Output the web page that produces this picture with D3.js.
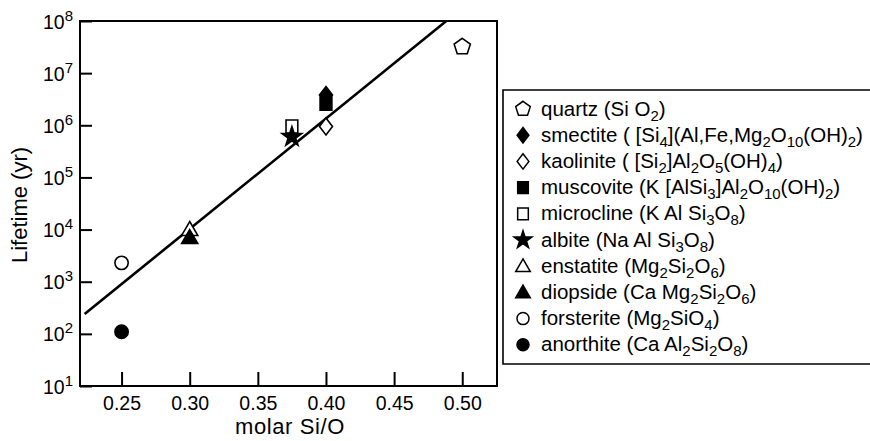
<!DOCTYPE html>
<html><head><meta charset="utf-8">
<script src="https://cdn.jsdelivr.net/npm/d3@7"></script>
<style>body{margin:0;background:#fff}svg{display:block}text{font-family:"Liberation Sans",Arial,sans-serif;fill:#000}</style>
</head><body><svg id="c" width="870" height="441"></svg>
<script>
const minerals = ["quartz","smectite","kaolinite","muscovite","microcline","albite","enstatite","diopside","forsterite","anorthite"];
const formulas = ["Si O_2","[Si_4](Al,Fe,Mg_2O_10(OH)_2","[Si_2]Al_2O_5(OH)_4","K [AlSi_3]Al_2O_10(OH)_2","K Al Si_3O_8","Na Al Si_3O_8","Mg_2Si_2O_6","Ca Mg_2Si_2O_6","Mg_2SiO_4","Ca Al_2Si_2O_8"];
const formulaPrefix = [" (", " ( ", " ( ", " (", " (", " (", " (", " (", " (", " ("];
const markers = ["pentagon","diamond","diamond","square","square","star","triangle","triangle","circle","circle"];
const filled = [false,true,false,true,false,true,false,true,false,true];
const siO = [0.50,0.40,0.40,0.40,0.375,0.375,0.30,0.30,0.25,0.25];
const lifetime = [3.2e7,3.8e6,9.5e5,2.6e6,9.5e5,6.0e5,1.0e4,7.0e3,2.3e3,110];
const fitX = [0.2229,0.4883];
const fitY = [240,1e8];
const xTicks = [0.25,0.30,0.35,0.40,0.45,0.50];
const yTicks = [1e1,1e2,1e3,1e4,1e5,1e6,1e7,1e8];

const svg = d3.select("#c");
const L=80,T=21,R=497,B=386;
const x = d3.scaleLinear().domain([0.2195,0.5255]).range([L,R]);
const y = d3.scaleLog().domain([10,1e8]).range([B,T]);

function addSub(sel, str, sub){
  const parts = str.split(/_(\d+)/);
  let pend = 0;
  parts.forEach((p,i)=>{
    if(p==="") return;
    if(i%2===1){ sel.append("tspan").attr("font-size",sub).attr("dy",pend+5).text(p); pend=-5; }
    else { sel.append("tspan").attr("dy",pend).text(p); pend=0; }
  });
  return pend;
}

// y axis
const ya = d3.axisLeft(y).tickValues(yTicks).tickSizeInner(-12).tickSizeOuter(0).tickPadding(8).tickFormat("");
const gy = svg.append("g").attr("transform",`translate(${L},0)`).call(ya);
gy.attr("font-family",null).attr("font-size",null);
gy.select(".domain").remove();
gy.selectAll("line").attr("stroke","#000").attr("stroke-width",2);
gy.selectAll(".tick").each(function(d){
  const t = d3.select(this).select("text").attr("font-size",19.5).attr("dy","0.36em").attr("x",-7);
  t.append("tspan").text("10");
  t.append("tspan").attr("font-size",15).attr("dy",-8).text(Math.round(Math.log10(d)));
});
// x axis
const xa = d3.axisBottom(x).tickValues(xTicks).tickSizeInner(-14).tickSizeOuter(0).tickPadding(10).tickFormat(d3.format(".2f"));
const gx = svg.append("g").attr("transform",`translate(0,${B})`).call(xa);
gx.attr("font-family",null).attr("font-size",null);
gx.select(".domain").remove();
gx.selectAll("line").attr("stroke","#000").attr("stroke-width",2);
gx.selectAll("text").attr("font-size",19.5);

svg.append("rect").attr("x",L).attr("y",T).attr("width",R-L).attr("height",B-T)
  .attr("fill","none").attr("stroke","#000").attr("stroke-width",2);

svg.append("text").attr("transform",`translate(27,205) rotate(-90)`).attr("text-anchor","middle")
  .attr("font-size",22).text("Lifetime (yr)");
svg.append("text").attr("x",290).attr("y",434).attr("text-anchor","middle").attr("font-size",22)
  .attr("letter-spacing",0.6).text("molar Si/O");

// fit line
svg.append("path").datum(fitX.map((v,i)=>[v,fitY[i]]))
  .attr("d",d3.line().x(d=>x(d[0])).y(d=>y(d[1])))
  .attr("stroke","#000").attr("stroke-width",2.6).attr("fill","none");

function pentagon(r){
  const pts=d3.range(5).map(i=>{const a=-Math.PI/2+i*2*Math.PI/5;return [r*Math.cos(a),r*Math.sin(a)];});
  return "M"+pts.map(p=>p.join(",")).join("L")+"Z";
}
function markerPath(m, s){
  if(m==="pentagon") return pentagon(s*0.55);
  if(m==="diamond") return `M0,${-s*0.55}L${s*0.42},0L0,${s*0.55}L${-s*0.42},0Z`;
  if(m==="square") return `M${-s*0.38},${-s*0.42}H${s*0.38}V${s*0.42}H${-s*0.38}Z`;
  if(m==="triangle") return `M0,${-s*0.52}L${s*0.52},${s*0.38}L${-s*0.52},${s*0.38}Z`;
  if(m==="circle") return d3.symbol(d3.symbolCircle, Math.PI*(s*0.43)**2)();
  if(m==="star") return d3.symbol(d3.symbolStar, s*s*0.5)();
}
const order=[0,2,3,1,4,5,6,7,8,9];
order.forEach(i=>{
  svg.append("path").attr("d",markerPath(markers[i],15.5))
    .attr("transform",`translate(${x(siO[i])},${y(lifetime[i])})`)
    .attr("fill",filled[i]?"#000":"#fff").attr("stroke","#000").attr("stroke-width",1.6);
});

// legend
const lx=503, ly=90, rowH=26.2;
svg.append("path").attr("d",`M872,${ly}H${lx}V364H872`).attr("fill","none").attr("stroke","#000").attr("stroke-width",1.6);
minerals.forEach((m,i)=>{
  const cy = ly+19+i*rowH;
  svg.append("path").attr("d",markerPath(markers[i],14)).attr("transform",`translate(523,${cy})`)
    .attr("fill",filled[i]?"#000":"#fff").attr("stroke","#000").attr("stroke-width",1.5);
  const t = svg.append("text").attr("x",541).attr("y",cy+6.5).attr("font-size",20.5);
  t.append("tspan").text(m+formulaPrefix[i]);
  const pend = addSub(t, formulas[i], 15);
  t.append("tspan").attr("dy",pend).text(")");
});
</script></body></html>
